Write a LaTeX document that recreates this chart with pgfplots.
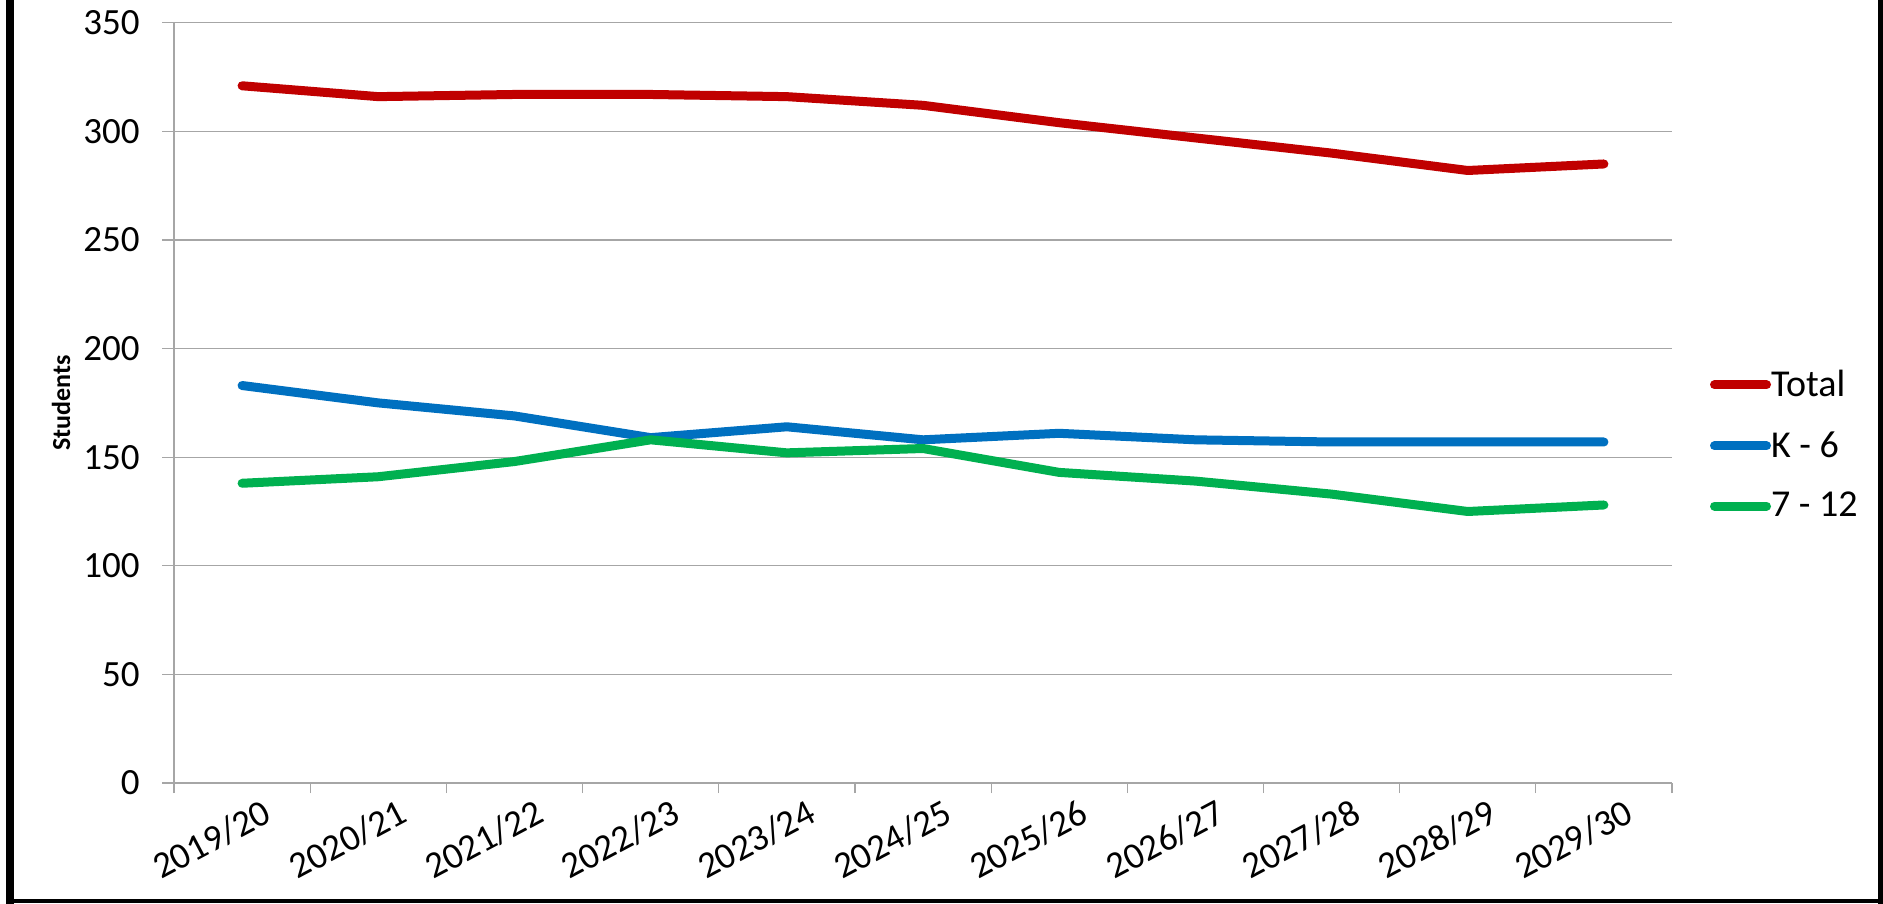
\documentclass[border=0pt]{standalone}
\usepackage{pgfplots}
\pgfplotsset{compat=1.18}
\usepackage{fontspec}
\setmainfont{Carlito}
\definecolor{cTotal}{HTML}{C00000}
\definecolor{cK}{HTML}{0070C0}
\definecolor{cS}{HTML}{00B050}
\definecolor{cGrid}{HTML}{A6A6A6}
\begin{document}
\begin{tikzpicture}
\useasboundingbox (0,0) rectangle (941.5pt,452pt);
\fill[white] (0,0) rectangle (941.5pt,452pt);
\begin{axis}[
  at={(87pt,60.5pt)}, anchor=south west,
  scale only axis, width=749pt, height=380.1pt,
  xmin=-0.5, xmax=10.5, ymin=0, ymax=350,
  ytick={0,50,...,350},
  xtick={0,...,10},
  xticklabels={2019/20,2020/21,2021/22,2022/23,2023/24,2024/25,2025/26,2026/27,2027/28,2028/29,2029/30},
  minor xtick={-0.5,0.5,...,10.5},
  major x tick style={draw=none},
  axis x line*=bottom, axis y line*=left,
  axis line style={-, cGrid, line width=0.6pt},
  ymajorgrids, grid style={cGrid, line width=0.6pt},
  tick style={cGrid, line width=0.6pt},
  tick align=outside,
  major tick length=6pt, minor tick length=5pt,
  /pgf/number format/assume math mode=true,
  yticklabel style={font=\fontsize{18.5}{21}\selectfont, anchor=east, inner sep=0pt, xshift=-11pt},
  xticklabel style={font=\fontsize{18.5}{21}\selectfont, rotate=28, anchor=north east, inner sep=0pt, xshift=8pt, yshift=-5.5pt},
  every axis y label/.style={at={(axis description cs:-0.0754,0.5)}, rotate=90, anchor=center},
  ylabel={\fontsize{13}{15}\selectfont\bfseries Students},
  legend style={draw=none, fill=none, at={(1.0251,0.4446)}, anchor=west,
    font=\fontsize{19}{22}\selectfont, row sep=16pt, inner sep=0pt,
    nodes={inner sep=0pt},
    /tikz/every odd column/.append style={column sep=0pt}},
  legend cell align=left,
  legend image code/.code={\draw[#1] (0pt,0pt) -- (26pt,0pt);},
  every axis plot/.append style={line width=4.5pt, line cap=round, line join=round},
]
\addplot[cTotal] coordinates {(0,321) (1,316) (2,317) (3,317) (4,316) (5,312) (6,304) (7,297) (8,290) (9,282) (10,285)};
\addlegendentry{Total}
\addplot[cK] coordinates {(0,183) (1,175) (2,169) (3,159) (4,164) (5,158) (6,161) (7,158) (8,157) (9,157) (10,157)};
\addlegendentry{K - 6}
\addplot[cS] coordinates {(0,138) (1,141) (2,148) (3,158) (4,152) (5,154) (6,143) (7,139) (8,133) (9,125) (10,128)};
\addlegendentry{7 - 12}
\end{axis}
\fill[black] (3pt,0pt) rectangle (7pt,452pt);
\fill[black] (939pt,0pt) rectangle (941.5pt,452pt);
\fill[black] (3pt,0.5pt) rectangle (941.5pt,2.5pt);
\end{tikzpicture}
\end{document}
